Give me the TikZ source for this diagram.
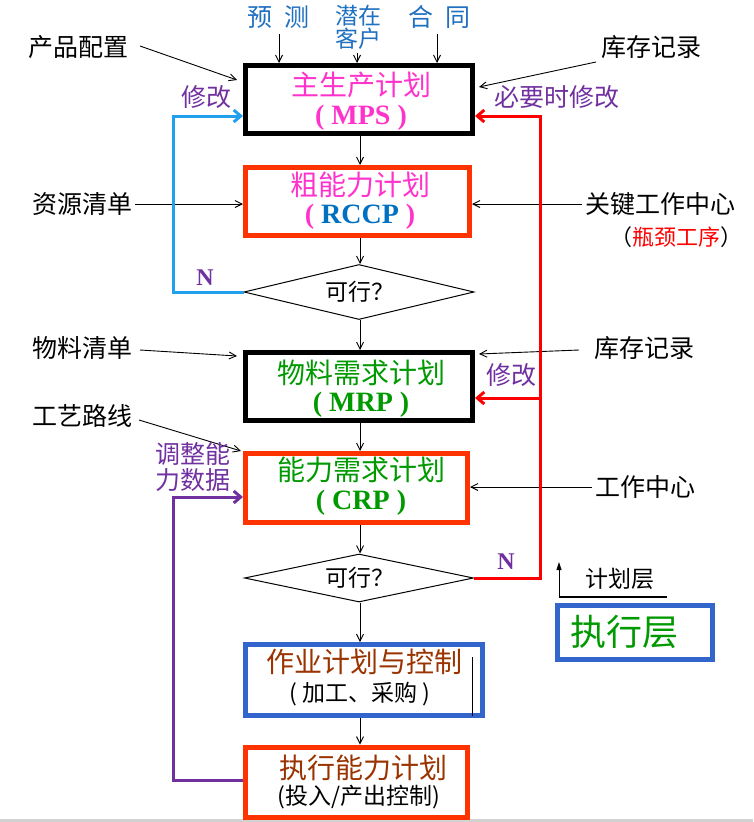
\documentclass[tikz,border=0pt]{standalone}
\usepackage{fontspec}
\setmainfont{Liberation Serif}
\newfontfamily\cjk{Noto Sans CJK SC}
\usetikzlibrary{arrows.meta,shapes.geometric,calc}
\definecolor{boxred}{HTML}{FF3300}
\definecolor{boxblue}{HTML}{3366CC}
\definecolor{mag}{HTML}{FF33CC}
\definecolor{rblue}{HTML}{0070C0}
\definecolor{grn}{HTML}{009900}
\definecolor{brn}{HTML}{993300}
\definecolor{purp}{HTML}{7030A0}
\definecolor{topblue}{HTML}{1F70C0}
\definecolor{cyanl}{HTML}{22A0EE}
\definecolor{redl}{HTML}{FF0000}
\begin{document}
\begin{tikzpicture}[x=1pt,y=-1pt,
  box/.style={draw, line width=5pt, inner sep=0pt},
  dia/.style={draw, diamond, line width=1pt, inner sep=0pt},
  arr/.style={-{Straight Barb[length=7pt,width=7pt]}, line width=0.9pt},
  fb/.style={line width=3pt, -{Straight Barb[length=7pt,width=12pt]}},
  lbl/.style={inner sep=0pt, font=\cjk\fontsize{25}{28}\selectfont},
  ttl/.style={inner sep=0pt, font=\cjk\fontsize{28}{32}\selectfont},
  sub/.style={inner sep=0pt, font=\bfseries\fontsize{28}{32}\selectfont},
  sml/.style={inner sep=0pt, font=\cjk\fontsize{23}{26}\selectfont},
  pl/.style={inner sep=0pt, text=purp, font=\cjk\fontsize{25}{28}\selectfont},
  nl/.style={inner sep=0pt, text=purp, font=\bfseries\fontsize{24}{28}\selectfont}]
\useasboundingbox (0,0) rectangle (753,822);
\fill[gray!35] (0,819) rectangle (753,822);

% boxes
\node[box, minimum width=227pt, minimum height=68pt] (mps) at (359,99.5) {};
\node[box, draw=boxred, minimum width=224pt, minimum height=68pt] (rccp) at (357.5,201.5) {};
\node[dia, minimum width=230pt, minimum height=55pt] (d1) at (359,292) {};
\node[box, minimum width=227pt, minimum height=68pt] (mrp) at (359,386.5) {};
\node[box, draw=boxred, minimum width=222pt, minimum height=69pt] (crp) at (356.5,488) {};
\node[dia, minimum width=229pt, minimum height=48pt] (d2) at (359,578) {};
\node[box, draw=boxblue, minimum width=237pt, minimum height=71pt] (ops) at (364,680) {};
\node[box, draw=boxred, minimum width=222pt, minimum height=70pt] (exe) at (356.5,782) {};
\node[box, draw=boxblue, minimum width=155pt, minimum height=54pt] (lg) at (635,632.5) {};

% box texts
\node[ttl, text=mag] (t1) at (361,85) {主生产计划};
\node[sub, text=mag] (t1b) at (361,118) {( MPS )};
\node[ttl, text=mag] (t2) at (360,185) {粗能力计划};
\node[sub, text=mag] (t2b) at (360,217) {( \textcolor{rblue}{RCCP} )};
\node[sml] (q1) at (360,292) {可行？};
\node[ttl, text=grn] (t3) at (361,373) {物料需求计划};
\node[sub, text=grn] (t3b) at (361,405) {( MRP )};
\node[ttl, text=grn] (t4) at (361,470) {能力需求计划};
\node[sub, text=grn] (t4b) at (361,503) {( CRP )};
\node[sml] (q2) at (360,578) {可行？};
\node[ttl, text=brn] (t5) at (364,662) {作业计划与控制};
\node[sml] (t5b) at (360,694) {( 加工、采购 )};
\draw[line width=1pt] (472,657) -- (472,716);
\node[ttl, text=brn] (t6) at (363,768) {执行能力计划};
\node[sml] (t6b) at (359,797) {(投入/产出控制)};

% flow arrows
\coordinate (cx) at (360,0);
\draw[arr] (mps.south -| cx) -- (rccp.north -| cx);
\draw[arr] (rccp.south -| cx) -- (d1.north -| cx);
\draw[arr] (d1.south -| cx) -- (mrp.north -| cx);
\draw[arr] (mrp.south -| cx) -- (crp.north -| cx);
\draw[arr] (crp.south -| cx) -- (d2.north -| cx);
\draw[arr] (d2.south -| cx) -- (ops.north -| cx);
\draw[arr] (ops.south -| cx) -- (exe.north -| cx);

% top inputs
\node[lbl, text=topblue] (yc) at (278,17) {预\hspace{12pt}测};
\node[sml, text=topblue, align=center] (kh) at (358,27) {潜在\\[-3pt]客户};
\node[lbl, text=topblue] (ht) at (439,17) {合\hspace{12pt}同};
\draw[arr] (279,34) -- (mps.north -| 279,0);
\draw[arr] (357,53) -- (mps.north -| 357,0);
\draw[arr] (437,34) -- (mps.north -| 437,0);

% side inputs
\node[lbl] (cp) at (78,47) {产品配置};
\draw[arr] (140,46) -- (237,80);
\node[lbl] (kc1) at (651,47) {库存记录};
\draw[arr] (596,62) -- (479,87);
\node[lbl] (zy) at (82,204) {资源清单};
\draw[arr] (zy.east) ++(3,0) -- (rccp.west |- zy.east);
\node[lbl] (gj) at (660,204) {关键工作中心};
\draw[arr] (gj.west) ++(-3,0) -- (rccp.east |- gj.west);
\node[inner sep=0pt, font=\cjk\fontsize{22}{26}\selectfont] (pj) at (676,237) {（\textcolor{redl}{瓶颈工序}）};
\node[lbl] (wl) at (82,348) {物料清单};
\draw[arr] (140,350) -- (237,356);
\node[lbl] (kc2) at (644,348) {库存记录};
\draw[arr] (579,350) -- (479,354);
\node[lbl] (gy) at (82,416) {工艺路线};
\draw[arr] (139,420) -- (241,451);
\node[lbl] (gz) at (645,487) {工作中心};
\draw[arr] (gz.west) ++(-3,0) -- (crp.east |- gz.west);

% feedback loops
\draw[fb, cyanl] (d1.west) -- ++(-70,0) |- ($(mps.west)+(0,16.5)$);
\draw[fb, redl] (d2.east) -- (540,578) |- ($(mps.east)+(0,16.5)$);
\draw[fb, redl] (540,398) -- (mrp.east |- 0,398);
\draw[fb, purp] (exe.west |- 0,780) -- (173,780) |- (crp.west |- 0,497);

% loop labels
\node[pl] (xg1) at (206,97) {修改};
\node[nl] (n1) at (205,278) {N};
\node[pl] (bx) at (557,97) {必要时修改};
\node[pl] (xg2) at (511,375) {修改};
\node[nl] (n2) at (506,562) {N};
\node[pl, align=center] (tz) at (193,467) {调整能\\[-2pt]力数据};

% legend
\node[sml] (jh) at (620,579) {计划层};
\draw[line width=2pt] (559,597) -- (667,597);
\draw[line width=1pt, -{Triangle[length=8pt,width=5pt]}] (559,597) -- (559,562);
\node[inner sep=0pt, text=grn, font=\cjk\fontsize{36}{40}\selectfont] (zx) at (624,632) {执行层};
\end{tikzpicture}
\end{document}
